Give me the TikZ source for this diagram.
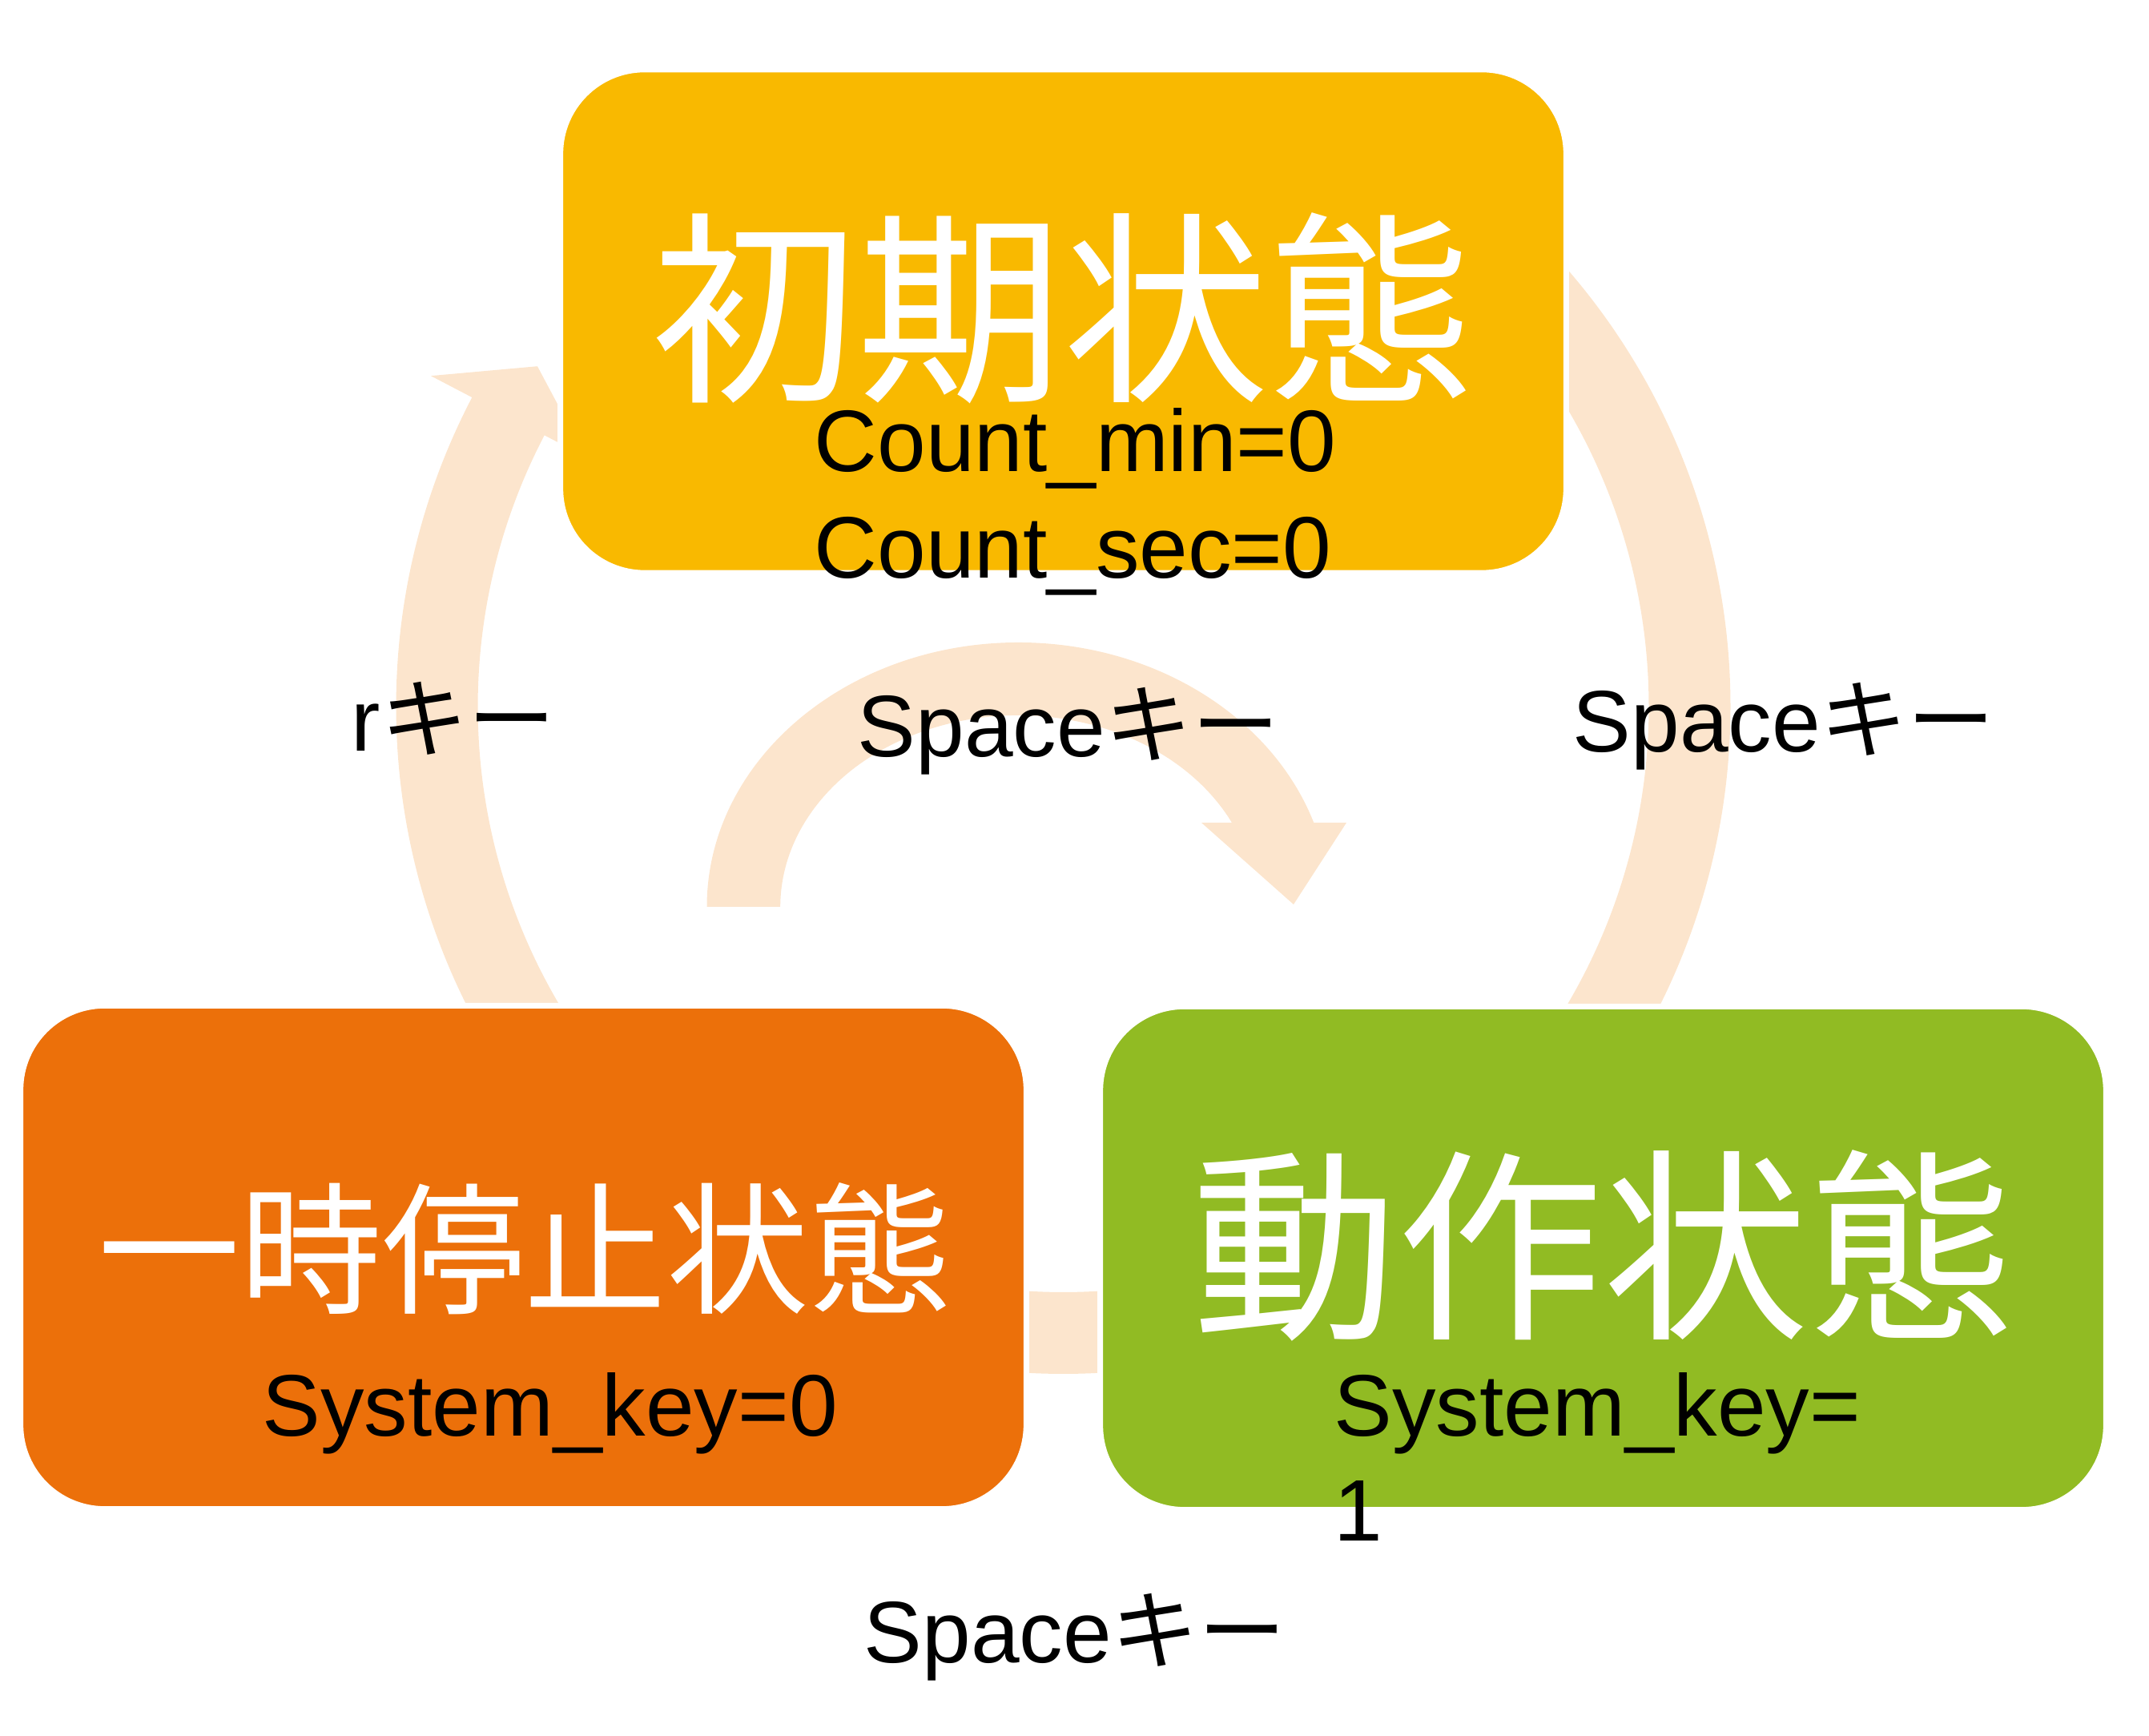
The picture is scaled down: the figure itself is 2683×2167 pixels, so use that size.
\documentclass[tikz,border=0pt]{standalone}
\usepackage{fontspec}
\setmainfont{Liberation Sans}
\newfontfamily\jpfont{Noto Sans CJK JP}
\definecolor{boxyellow}{HTML}{F9B900}
\definecolor{boxorange}{HTML}{EC700A}
\definecolor{boxgreen}{HTML}{91BB23}
\definecolor{arrowpeach}{HTML}{FCE5CD}
\tikzset{
  statebox/.style={draw=white, line width=2pt, rounded corners=1.05cm,
    minimum width=12.55cm, minimum height=6.28cm, inner sep=0pt},
  bigtitle/.style={text=white, inner sep=0pt, anchor=base,
    font=\jpfont\fontsize{73pt}{80pt}\selectfont},
  midtitle/.style={text=white, inner sep=0pt, anchor=base,
    font=\jpfont\fontsize{50.5pt}{56pt}\selectfont},
  lbl/.style={text=black, inner sep=0pt, anchor=base west,
    font=\fontsize{31pt}{37.5pt}\selectfont},
  cyclearrow/.style={fill=arrowpeach, draw=none}
}
\begin{document}
\begin{tikzpicture}[x=0.01cm,y=0.01cm]
\useasboundingbox (0,0) rectangle (2683,2167);
% big ring arrows
\begin{scope}[shift={(1327.5,1285)}]
  % orange -> yellow (left)
  \fill[cyclearrow] (215:833) arc[start angle=215,end angle=152.4,radius=833]
    -- (152.4:891) -- (147.1:782) -- (152.4:673) -- (152.4:731)
    arc[start angle=152.4,end angle=215,radius=731] -- cycle;
  % yellow -> green (right)
  \fill[cyclearrow] (55:833) arc[start angle=55,end angle=-55,radius=833]
    -- (-55:891) -- (-60.3:782) -- (-55:673) -- (-55:731)
    arc[start angle=-55,end angle=55,radius=731] -- cycle;
  % green -> orange (bottom)
  \fill[cyclearrow] (-70:833) arc[start angle=-70,end angle=-112,radius=833]
    -- (-112:891) -- (-117.3:782) -- (-112:673) -- (-112:731)
    arc[start angle=-112,end angle=-70,radius=731] -- cycle;
\end{scope}
% inner arc arrow orange -> green
\fill[cyclearrow] (882.5,1035) arc[start angle=180,end angle=18.55,x radius=389,y radius=330]
  -- (1681,1140) -- (1615,1038) -- (1500,1140) -- (1538,1140)
  arc[start angle=26.06,end angle=180,x radius=297,y radius=239] -- cycle;
% state boxes
\node[statebox, fill=boxyellow] (init) at (1327.5,1766) {};
\node[statebox, fill=boxorange] (pause) at (653.5,597.5) {};
\node[statebox, fill=boxgreen] (run) at (2001.5,596.5) {};
% titles
\node[bigtitle] (initt) at (1327,1684) {初期状態};
\node[midtitle] (pauset) at (655,540) {一時停止状態};
\node[bigtitle] (runt) at (2001.5,514) {動作状態};
% box contents
\node[lbl] (cmin) at (1016,1578) {Count\_min=0};
\node[lbl] (csec) at (1016,1445) {Count\_sec=0};
\node[lbl] (pkey) at (327,374) {System\_key=0};
\node[lbl] (rkey1) at (1665,374) {System\_key=};
\node[lbl] (rkey2) at (1665,243) {1};
% transition labels
\node[lbl] (lr) at (438,1229) {r{\jpfont キー}};
\node[lbl] (lmid) at (1070,1222) {Space{\jpfont キー}};
\node[lbl] (lright) at (1963,1228) {Space{\jpfont キー}};
\node[lbl] (lbottom) at (1078,91) {Space{\jpfont キー}};
\end{tikzpicture}
\end{document}
